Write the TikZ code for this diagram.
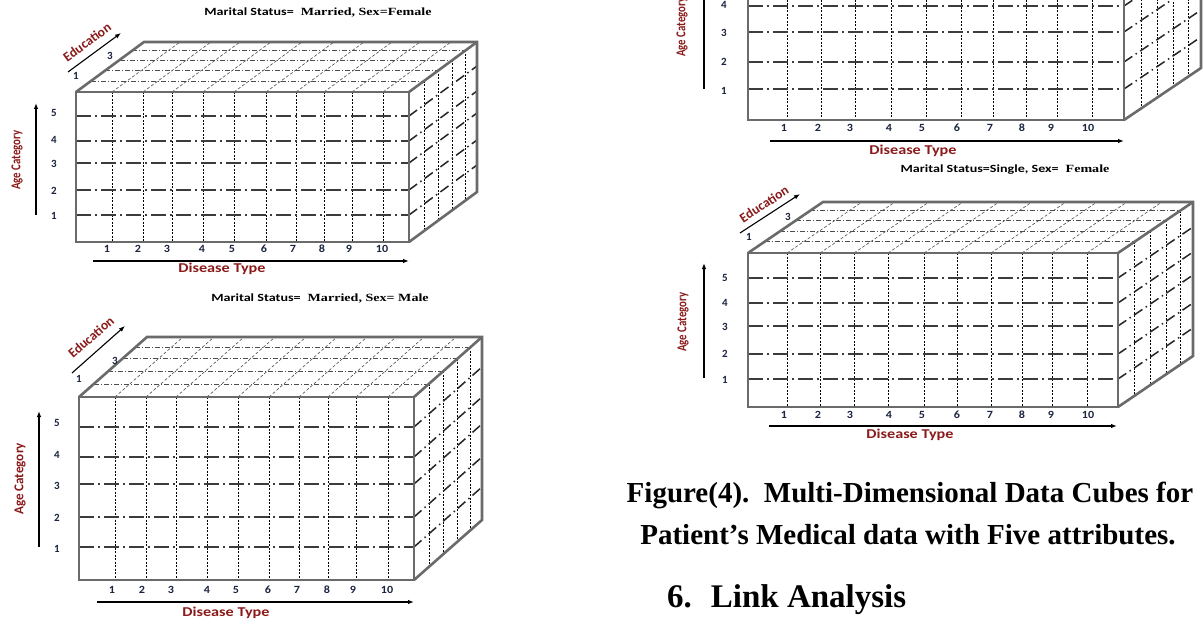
\documentclass[tikz,border=0pt]{standalone}
\usepackage{fontspec}
\usepackage{graphicx}
\setmainfont{Liberation Serif}
\newfontfamily\calb{Carlito}
\usetikzlibrary{arrows.meta}
\definecolor{axred}{HTML}{8B1A1A}
\definecolor{numcol}{HTML}{1B2440}
\definecolor{edgecol}{HTML}{6A6A6A}
\definecolor{lvlcol}{HTML}{3C3C3C}
\newcommand{\hx}[2]{\scalebox{#1}[1]{#2}}
\tikzset{
  edge/.style={draw=edgecol, line width=2.6pt, line join=miter},
  frontv/.style={draw=black, line width=0.8pt, dash pattern=on 2pt off 1.5pt},
  fronth/.style={draw=lvlcol, line width=1.8pt, dash pattern=on 15pt off 4pt on 2pt off 4pt},
  sideh/.style={draw=black!85, line width=1.5pt, dash pattern=on 10pt off 4pt on 1.5pt off 4pt},
  sidev/.style={draw=black, line width=0.7pt, dash pattern=on 2pt off 1.5pt},
  topdash/.style={draw=black!70, line width=0.6pt, dash pattern=on 3pt off 2pt},
  topdd/.style={draw=black!70, line width=0.6pt, dash pattern=on 5pt off 2pt on 1pt off 2pt},
  num/.style={font=\calb\bfseries\fontsize{11}{12}\selectfont, text=numcol, inner sep=0pt},
  axlab/.style={font=\calb\bfseries\fontsize{13.5}{14}\selectfont, text=axred, inner sep=0pt},
  ttl/.style={font=\fontsize{11}{12}\selectfont, inner sep=0pt},
  axarrow/.style={draw=black, line width=1.1pt, -{Latex[length=6pt,width=4.5pt]}},
  captxt/.style={font=\bfseries\fontsize{29}{32}\selectfont, inner sep=0pt},
  sectxt/.style={font=\bfseries\fontsize{33}{36}\selectfont, inner sep=0pt},
}
% #1 L, #2 T, #3 R, #4 B, #5 dx, #6 dy, #7 verticals, #8 levels
\newcommand{\mycube}[8]{%
  \foreach \x in {#7} \draw[topdash] (\x,#2) -- ({\x+#5},{#2-#6});
  \foreach \ff in {0.22,0.43,0.64,0.83} {
    \draw[topdd] ({#1+\ff*#5},{#2-\ff*#6}) -- ({#3+\ff*#5},{#2-\ff*#6});
    \draw[sidev] ({#3+\ff*#5},{#2-\ff*#6}) -- ({#3+\ff*#5},{#4-\ff*#6});
  }
  \foreach \x in {#7} \draw[frontv] (\x,#2) -- (\x,#4);
  \foreach \y in {#8} {
    \draw[fronth] (#1,\y) -- (#3,\y);
    \draw[sideh] (#3,\y) -- ({#3+#5},{\y-#6});
  }
  \draw[edge] (#1,#2) rectangle (#3,#4);
  \draw[edge] (#1,#2) -- ({#1+#5},{#2-#6}) -- ({#3+#5},{#2-#6}) -- ({#3+#5},{#4-#6}) -- (#3,#4);
  \draw[edge] (#3,#2) -- ({#3+#5},{#2-#6});
}
\begin{document}
\begin{tikzpicture}[x=1pt,y=-1pt]
\path[use as bounding box] (0,0) rectangle (1203,623);
\clip (0,0) rectangle (1203,623);
\fill[white] (0,0) rectangle (1203,623);

% ---------- Cube 1 (Married, Female) ----------
\mycube{76}{92}{409}{242}{68}{50}{112,143,172,203,234,266,296,324,352,383}{116,141,163,190,215}
\foreach \x/\n in {107/1,138/2,167/3,202/4,232/5,264/6,293/7,322/8,349/9,382/10}
  \node[num] (a-d\n) at (\x,249) {\hx{1.1}{\n}};
\foreach \y/\n in {113/5,140/4,164/3,191/2,216/1}
  \node[num] (a-a\n) at (54,\y) {\n};
\coordinate (a-ds) at (93,261); \coordinate (a-de) at (409,261);
\draw[axarrow] (a-ds) -- (a-de);
\node[axlab] (a-dl) at (222,269) {\hx{1.2}{Disease Type}};
\coordinate (a-as) at (36,215); \coordinate (a-ae) at (36,103);
\draw[axarrow] (a-as) -- (a-ae);
\node[axlab, rotate=90] (a-al) at (17,160) {\hx{0.8}{Age Category}};
\coordinate (a-es) at (68,72); \coordinate (a-ee) at (121,33);
\draw[axarrow] (a-es) -- (a-ee);
\node[axlab, rotate=36] (a-el) at (87,42) {Education};
\node[num] (a-e3) at (110,56) {3};
\node[num] (a-e1) at (76,76) {1};
\node[ttl] (a-t) at (318,12) {\hx{1.28}{{\calb\bfseries Marital Status=}\ \ \textbf{Married, Sex=Female}}};

% ---------- Cube 2 (Married, Male) ----------
\mycube{79}{397}{414}{580}{68}{60}{115,146,176,207,238,269,299,328,356,388}{427,457,484,517,547}
\foreach \x/\n in {112/1,142/2,171/3,207/4,236/5,268/6,297/7,327/8,353/9,387/10}
  \node[num] (b-d\n) at (\x,590) {\hx{1.1}{\n}};
\foreach \y/\n in {423/5,455/4,486/3,518/2,549/1}
  \node[num] (b-a\n) at (57,\y) {\n};
\coordinate (b-ds) at (97,602); \coordinate (b-de) at (414,602);
\draw[axarrow] (b-ds) -- (b-de);
\node[axlab] (b-dl) at (226,613) {\hx{1.2}{Disease Type}};
\coordinate (b-as) at (39,547); \coordinate (b-ae) at (39,411);
\draw[axarrow] (b-as) -- (b-ae);
\node[axlab, rotate=90] (b-al) at (20,479) {\hx{0.97}{Age Category}};
\coordinate (b-es) at (72,373); \coordinate (b-ee) at (125,326);
\draw[axarrow] (b-es) -- (b-ee);
\node[axlab, rotate=41] (b-el) at (91,337) {Education};
\node[num] (b-e3) at (115,361) {3};
\node[num] (b-e1) at (79,379) {1};
\node[ttl] (b-t) at (320,298) {\hx{1.28}{{\calb\bfseries Marital Status=}\ \ \textbf{Married, Sex= Male}}};

% ---------- Cube 3 (top right, cut) ----------
\mycube{748}{-35}{1124}{120}{77}{52}{787,821,855,891,926,961,993,1026,1057,1092}{-20,6,32,62,89}
\foreach \x/\n in {784/1,818/2,850/3,889/4,922/5,957/6,990/7,1022/8,1051/9,1088/10}
  \node[num] (c-d\n) at (\x,128) {\hx{1.1}{\n}};
\foreach \y/\n in {5/4,33/3,62/2,91/1}
  \node[num] (c-a\n) at (724,\y) {\n};
\coordinate (c-ds) at (770,141); \coordinate (c-de) at (1124,141);
\draw[axarrow] (c-ds) -- (c-de);
\node[axlab] (c-dl) at (913,151) {\hx{1.2}{Disease Type}};
\coordinate (c-as) at (704,89); \coordinate (c-ae) at (704,-40);
\draw[axarrow] (c-as) -- (c-ae);
\node[axlab, rotate=90] (c-al) at (682,27) {\hx{0.8}{Age Category}};

% ---------- Cube 4 (Single, Female) ----------
\node[ttl] (d-t) at (1005,170) {\hx{1.28}{{\calb\bfseries Marital Status=Single, Sex=}\ \ \textbf{Female}}};
\mycube{748}{253}{1118}{407}{75}{51}{787,820,854,888,924,957,991,1022,1052,1087}{278,303,326,354,379}
\foreach \x/\n in {784/1,818/2,850/3,889/4,922/5,957/6,990/7,1022/8,1051/9,1088/10}
  \node[num] (d-d\n) at (\x,415) {\hx{1.1}{\n}};
\foreach \y/\n in {278/5,303/4,327/3,354/2,380/1}
  \node[num] (d-a\n) at (725,\y) {\n};
\coordinate (d-ds) at (769,426); \coordinate (d-de) at (1117,426);
\draw[axarrow] (d-ds) -- (d-de);
\node[axlab] (d-dl) at (910,435) {\hx{1.2}{Disease Type}};
\coordinate (d-as) at (704,378); \coordinate (d-ae) at (704,263);
\draw[axarrow] (d-as) -- (d-ae);
\node[axlab, rotate=90] (d-al) at (683,322) {\hx{0.8}{Age Category}};
\coordinate (d-es) at (740,233); \coordinate (d-ee) at (800,194);
\draw[axarrow] (d-es) -- (d-ee);
\node[axlab, rotate=33] (d-el) at (764,204) {Education};
\node[num] (d-e3) at (788,217) {3};
\node[num] (d-e1) at (749,237) {1};

% ---------- Caption ----------
\node[captxt] (cap1) at (910,495) {Figure(4).\ \ Multi-Dimensional Data Cubes for};
\node[captxt] (cap2) at (908,535) {Patient’s Medical data with Five attributes.};
\node[sectxt, anchor=west] (sec) at (667,600) {6.\hspace{19pt}Link Analysis};
\end{tikzpicture}
\end{document}
